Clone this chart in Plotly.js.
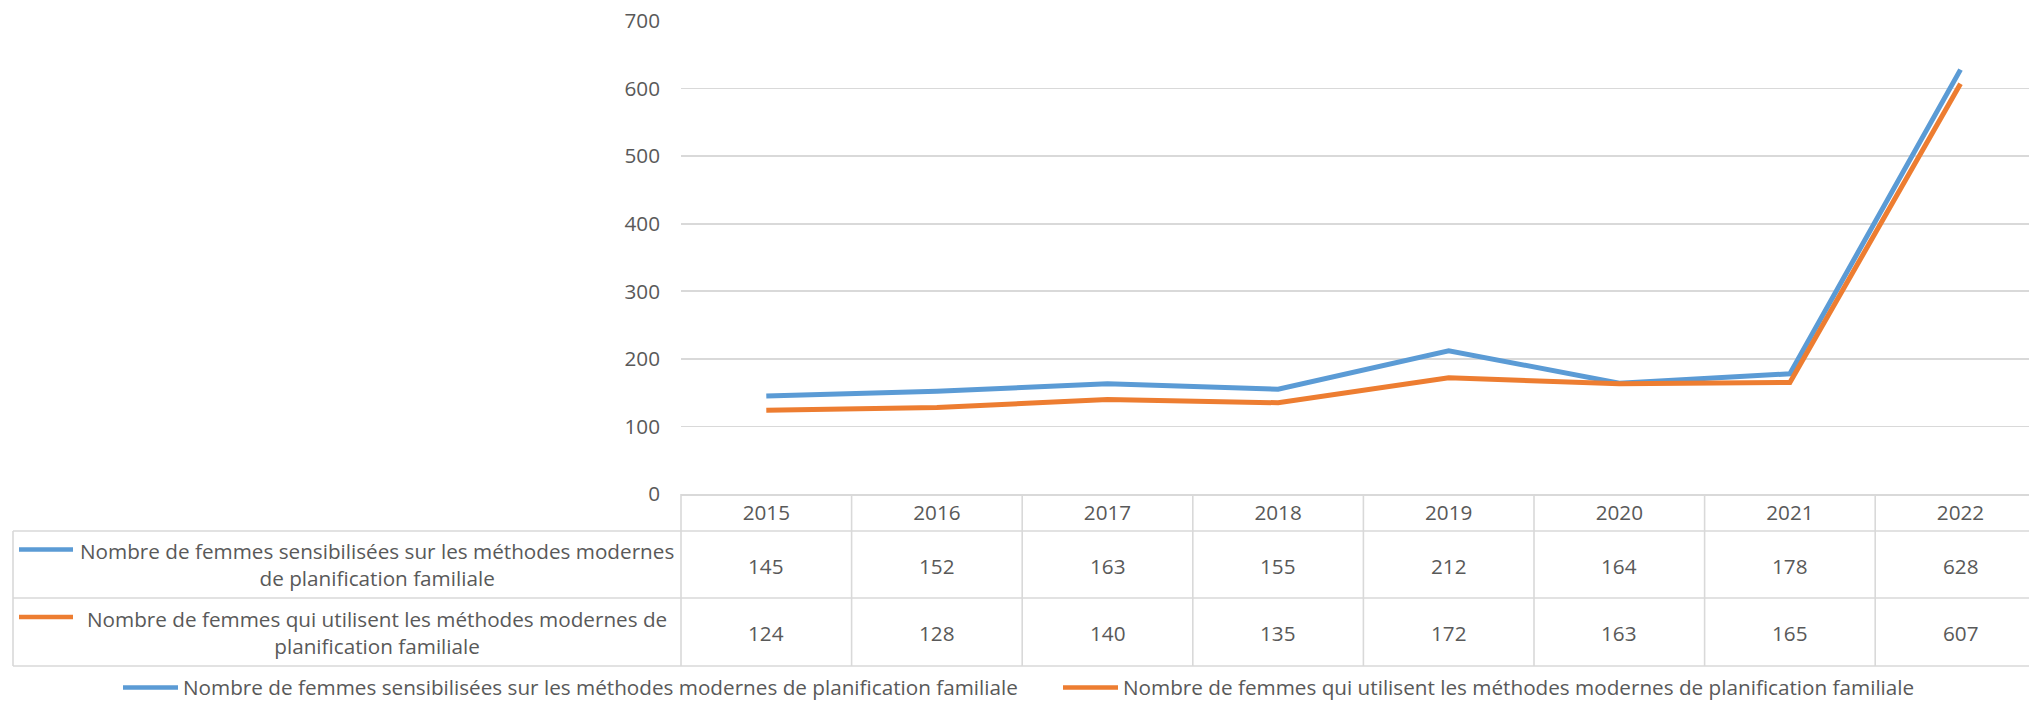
<!DOCTYPE html>
<html>
<head>
<meta charset="utf-8">
<script src="https://cdn.plot.ly/plotly-3.0.1.min.js"></script>
<style>
  html, body { margin: 0; padding: 0; background: #ffffff; overflow: hidden; }
  #chart { width: 2029px; height: 701px; }
</style>
</head>
<body>
<div id="chart"></div>
<script>
// ---- data ----
const years = ["2015", "2016", "2017", "2018", "2019", "2020", "2021", "2022"];
const sensibilisees = [145, 152, 163, 155, 212, 164, 178, 628];
const utilisent = [124, 128, 140, 135, 172, 163, 165, 607];
const seriesNames = [
  "Nombre de femmes sensibilisées sur les méthodes modernes de planification familiale",
  "Nombre de femmes qui utilisent les méthodes modernes de planification familiale"
];
const tableLabels = [
  "Nombre de femmes sensibilisées sur les méthodes modernes<br>de planification familiale",
  "Nombre de femmes qui utilisent les méthodes modernes de<br>planification familiale"
];
const yTicks = [0, 100, 200, 300, 400, 500, 600, 700];

// ---- style ----
const BLUE = "#5B9BD5";
const ORANGE = "#ED7D31";
const TXT = "#595959";
const GRID = "#D9D9D9";
const FONT = "Open Sans, DejaVu Sans, sans-serif";
const FS = 20.7;

const W = 2029, H = 701;
const L = 681, T = 21, B = 207;
const plotW = W - L, plotH = H - T - B;
const px2paperX = X => (X - L) / plotW;
const px2paperY = Y => (H - B - Y) / plotH;

const xIdx = years.map((_, i) => i);
const colors = [BLUE, ORANGE];

const traces = [
  { x: xIdx, y: sensibilisees, name: seriesNames[0], type: "scatter", mode: "lines",
    line: { color: BLUE, width: 5 }, hoverinfo: "x+y" },
  { x: xIdx, y: utilisent, name: seriesNames[1], type: "scatter", mode: "lines",
    line: { color: ORANGE, width: 5 }, hoverinfo: "x+y" }
];

const shapes = [];
const annotations = [];

// table geometry (pixels)
const tableLeft = 13;
const rowLines = [531, 598, 666];
const tableBottom = 666;

rowLines.forEach(Y => {
  shapes.push({ type: "line", xref: "paper", yref: "paper",
    x0: px2paperX(tableLeft), x1: 1, y0: px2paperY(Y), y1: px2paperY(Y),
    line: { color: GRID, width: 1.6 } });
});
shapes.push({ type: "line", xref: "paper", yref: "paper",
  x0: px2paperX(tableLeft), x1: px2paperX(tableLeft),
  y0: px2paperY(rowLines[0]), y1: px2paperY(tableBottom),
  line: { color: GRID, width: 1.6 } });
shapes.push({ type: "line", xref: "paper", yref: "paper",
  x0: 0, x1: 0, y0: 0, y1: px2paperY(tableBottom),
  line: { color: GRID, width: 1.6 } });
xIdx.forEach(i => {
  shapes.push({ type: "line", xref: "x", yref: "paper",
    x0: i + 0.5, x1: i + 0.5, y0: 0, y1: px2paperY(tableBottom),
    line: { color: GRID, width: 1.6 } });
});

// table values
const rowCentersY = [565.5, 633];
[sensibilisees, utilisent].forEach((vals, r) => {
  vals.forEach((v, i) => {
    annotations.push({ xref: "x", yref: "paper", x: i, y: px2paperY(rowCentersY[r]),
      text: String(v), showarrow: false, xanchor: "center", yanchor: "middle",
      font: { family: FONT, size: FS, color: TXT } });
  });
});

// row labels with legend keys
const keyY = [549.5, 617];
tableLabels.forEach((lab, r) => {
  shapes.push({ type: "line", xref: "paper", yref: "paper",
    x0: px2paperX(19), x1: px2paperX(73), y0: px2paperY(keyY[r]), y1: px2paperY(keyY[r]),
    line: { color: colors[r], width: 4.5 } });
  annotations.push({ xref: "paper", yref: "paper", x: px2paperX(377), y: px2paperY(rowCentersY[r] - 1),
    text: lab, showarrow: false, xanchor: "center", yanchor: "middle", align: "center",
    font: { family: FONT, size: FS, color: TXT } });
});

// bottom legend (drawn as keys + labels)
const legKeyX = [[123, 178], [1063, 1118]];
const legY = 686.5;
seriesNames.forEach((nm, r) => {
  shapes.push({ type: "line", xref: "paper", yref: "paper",
    x0: px2paperX(legKeyX[r][0]), x1: px2paperX(legKeyX[r][1]),
    y0: px2paperY(legY + 1), y1: px2paperY(legY + 1),
    line: { color: colors[r], width: 4.5 } });
  annotations.push({ xref: "paper", yref: "paper", x: px2paperX(legKeyX[r][1] + 3), y: px2paperY(legY),
    text: nm, showarrow: false, xanchor: "left", yanchor: "middle",
    font: { family: FONT, size: FS, color: TXT } });
});

const layout = {
  width: W, height: H,
  margin: { l: L, r: 0, t: T, b: B, pad: 0 },
  paper_bgcolor: "#ffffff", plot_bgcolor: "#ffffff",
  font: { family: FONT, size: FS, color: TXT },
  showlegend: false,
  xaxis: {
    type: "linear", range: [-0.5, -0.5 + plotW / 170.6],
    tickmode: "array", tickvals: xIdx, ticktext: years,
    showgrid: false, zeroline: false,
    showline: true, linecolor: GRID, linewidth: 1.6,
    ticks: "", ticklabelstandoff: 0,
    tickfont: { family: FONT, size: FS, color: TXT }, fixedrange: true,
    automargin: false
  },
  yaxis: {
    range: [0, 700], tickmode: "array", tickvals: yTicks,
    showgrid: true, gridcolor: GRID, gridwidth: 1.6,
    zeroline: false, showline: false, ticks: "",
    ticklabelstandoff: 20,
    tickfont: { family: FONT, size: FS, color: TXT }, fixedrange: true,
    automargin: false
  },
  shapes: shapes,
  annotations: annotations
};

Plotly.newPlot("chart", traces, layout, { displayModeBar: false, staticPlot: true });
</script>
</body>
</html>
